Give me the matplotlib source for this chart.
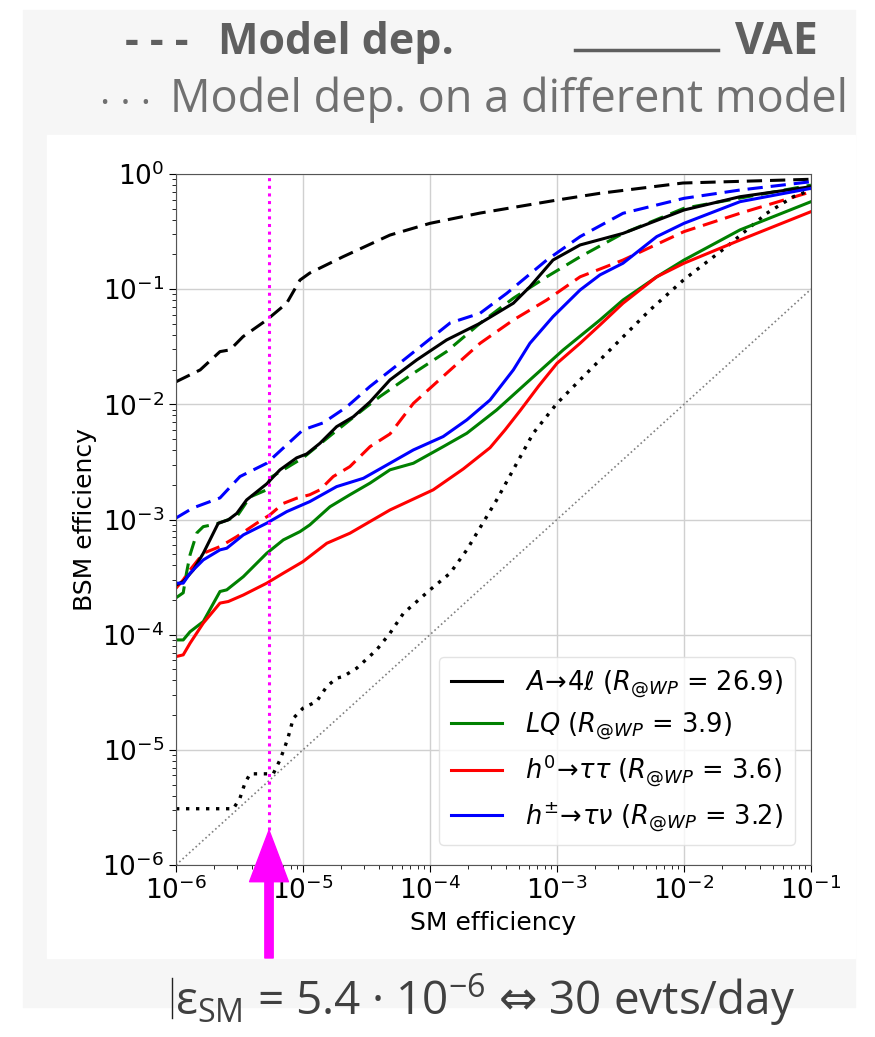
import numpy as np
import matplotlib
matplotlib.use("Agg")
from matplotlib import pyplot as plt
from matplotlib.lines import Line2D
from matplotlib.patches import Rectangle

# ---- data (SM efficiency, BSM efficiency) ----
# VAE (solid)
ato4l_x = [1.0e-6, 1.14e-6, 1.37e-6, 1.64e-6, 2.15e-6, 2.58e-6, 3.01e-6, 3.6e-6, 5.18e-6, 6.59e-6,
           8.91e-6, 1.07e-5, 1.36e-5, 1.84e-5, 2.49e-5, 3.37e-5, 4.84e-5, 7.86e-5, 1.35e-4, 2.48e-4,
           4.53e-4, 6.12e-4, 9.3e-4, 1.52e-3, 3.31e-3, 1.0e-2, 2.76e-2, 1.0e-1]
ato4l_y = [2.7e-4, 2.89e-4, 3.65e-4, 5.09e-4, 9.27e-4, 9.93e-4, 1.13e-3, 1.48e-3, 2.04e-3, 2.70e-3,
           3.43e-3, 3.71e-3, 4.59e-3, 6.4e-3, 7.8e-3, 1.05e-2, 1.63e-2, 2.43e-2, 3.62e-2, 5.06e-2,
           7.55e-2, 0.105, 0.179, 0.242, 0.305, 0.487, 0.635, 0.776]

lq_x = [1.0e-6, 1.14e-6, 1.29e-6, 1.64e-6, 2.22e-6, 2.51e-6, 3.39e-6, 5.18e-6, 7.0e-6, 9.47e-6,
        1.13e-5, 1.63e-5, 2.34e-5, 3.37e-5, 4.84e-5, 7.4e-5, 1.27e-4, 1.95e-4, 3.35e-4, 6.12e-4,
        1.12e-3, 2.18e-3, 3.31e-3, 6.1e-3, 1.0e-2, 2.76e-2, 1.0e-1]
lq_y = [9.0e-5, 9.0e-5, 1.06e-4, 1.30e-4, 2.37e-4, 2.45e-4, 3.19e-4, 5.09e-4, 6.65e-4, 7.85e-4,
        8.97e-4, 1.29e-3, 1.64e-3, 2.07e-3, 2.70e-3, 3.08e-3, 4.29e-3, 5.61e-3, 8.94e-3, 1.63e-2,
        2.97e-2, 5.4e-2, 8.05e-2, 0.128, 0.179, 0.327, 0.575]

h0_x = [1.0e-6, 1.14e-6, 1.29e-6, 1.64e-6, 2.22e-6, 2.58e-6, 3.39e-6, 5.18e-6, 7.0e-6, 1.0e-5,
        1.54e-5, 2.34e-5, 3.37e-5, 4.84e-5, 1.06e-4, 1.83e-4, 2.97e-4, 3.9e-4, 5.12e-4, 7.2e-4,
        1.0e-3, 1.52e-3, 2.18e-3, 3.31e-3, 6.1e-3, 1.0e-2, 2.76e-2, 1.0e-1]
h0_y = [6.45e-5, 6.68e-5, 8.43e-5, 1.26e-4, 1.88e-4, 1.94e-4, 2.21e-4, 2.80e-4, 3.42e-4, 4.31e-4,
        6.22e-4, 7.6e-4, 9.6e-4, 1.21e-3, 1.81e-3, 2.75e-3, 4.2e-3, 6.0e-3, 8.8e-3, 1.45e-2,
        2.27e-2, 3.39e-2, 4.89e-2, 7.55e-2, 0.128, 0.168, 0.267, 0.471]

hpm_x = [1.0e-6, 1.14e-6, 1.29e-6, 1.64e-6, 2.22e-6, 2.51e-6, 3.39e-6, 5.18e-6, 7.44e-6, 1.13e-5,
         1.84e-5, 2.99e-5, 4.84e-5, 7.4e-5, 1.27e-4, 1.95e-4, 2.97e-4, 4.53e-4, 6.12e-4, 9.3e-4,
         1.52e-3, 2.18e-3, 3.31e-3, 6.1e-3, 1.0e-2, 2.76e-2, 1.0e-1]
hpm_y = [2.80e-4, 2.80e-4, 3.42e-4, 4.46e-4, 5.45e-4, 5.63e-4, 7.35e-4, 9.29e-4, 1.17e-3, 1.43e-3,
         1.93e-3, 2.28e-3, 3.08e-3, 4.02e-3, 5.25e-3, 7.33e-3, 1.09e-2, 1.99e-2, 3.39e-2, 5.77e-2,
         9.84e-2, 0.133, 0.168, 0.286, 0.373, 0.575, 0.751]

# Model dependent (dashed)
md_ato4l_x = [1.0e-6, 1.55e-6, 2.22e-6, 2.66e-6, 3.37e-6, 5.18e-6, 7.44e-6, 9.47e-6, 1.13e-5, 2.06e-5,
              4.84e-5, 1.0e-4, 2.48e-4, 1.0e-3, 2.18e-3, 9.8e-3, 1.0e-1]
md_ato4l_y = [0.0157, 0.0199, 0.0287, 0.0297, 0.0387, 0.054, 0.0755, 0.120, 0.138, 0.191,
              0.295, 0.373, 0.458, 0.594, 0.680, 0.835, 0.90]

md_lq_x = [1.0e-6, 1.14e-6, 1.21e-6, 1.29e-6, 1.46e-6, 1.64e-6, 2.09e-6, 3.01e-6, 3.83e-6, 5.18e-6,
           5.5e-6, 1.0e-5, 1.73e-5, 3.18e-5, 4.04e-5, 7.4e-5, 1.35e-4, 2.48e-4, 4.53e-4, 8.3e-4,
           1.52e-3, 3.31e-3, 1.0e-2, 1.0e-1]
md_lq_y = [2.09e-4, 2.31e-4, 3.44e-4, 4.93e-4, 7.65e-4, 8.67e-4, 9.16e-4, 1.06e-3, 1.57e-3, 1.81e-3,
           2.30e-3, 3.43e-3, 5.61e-3, 9.55e-3, 1.17e-2, 1.86e-2, 2.87e-2, 5.06e-2, 8.34e-2, 0.128,
           0.191, 0.305, 0.504, 0.80]

md_h0_x = [1.0e-6, 1.14e-6, 1.29e-6, 1.64e-6, 2.22e-6, 3.01e-6, 4.32e-6, 5.5e-6, 7.0e-6, 8.91e-6,
           1.13e-5, 1.36e-5, 1.73e-5, 2.34e-5, 3.37e-5, 4.84e-5, 7.4e-5, 1.35e-4, 2.48e-4, 4.53e-4,
           8.3e-4, 1.52e-3, 3.31e-3, 1.0e-2, 2.76e-2, 1.0e-1]
md_h0_y = [2.53e-4, 2.99e-4, 3.65e-4, 5.09e-4, 5.82e-4, 7.1e-4, 9.29e-4, 1.10e-3, 1.38e-3, 1.53e-3,
           1.64e-3, 1.81e-3, 2.36e-3, 2.88e-3, 4.29e-3, 5.53e-3, 1.02e-2, 1.86e-2, 3.39e-2, 5.4e-2,
           8.05e-2, 0.128, 0.179, 0.316, 0.456, 0.70]

md_hpm_x = [1.0e-6, 1.36e-6, 2.22e-6, 3.19e-6, 5.18e-6, 1.0e-5, 1.44e-5, 2.21e-5, 3.37e-5, 5.81e-5,
            1.44e-4, 2.48e-4, 4.02e-4, 8.3e-4, 1.52e-3, 3.31e-3, 1.0e-2, 2.76e-2, 1.0e-1]
md_hpm_y = [1.03e-3, 1.26e-3, 1.54e-3, 2.36e-3, 3.08e-3, 6.0e-3, 6.9e-3, 9.5e-3, 1.43e-2, 2.29e-2,
            5.09e-2, 6.18e-2, 9.2e-2, 0.179, 0.286, 0.456, 0.615, 0.726, 0.857]

# Model dependent, trained on a different model (dotted)
other_x = [1.0e-6, 2.83e-6, 3.19e-6, 3.49e-6, 3.83e-6, 5.83e-6, 6.59e-6, 7.22e-6, 7.66e-6, 8.39e-6,
           1.0e-5, 1.28e-5, 1.54e-5, 1.84e-5, 2.07e-5, 2.65e-5, 3.80e-5, 4.84e-5, 6.17e-5, 1.0e-4,
           1.44e-4, 1.95e-4, 3.35e-4, 6.5e-4, 1.0e-3, 1.61e-3, 2.95e-3, 5.4e-3, 9.9e-3, 2.17e-2,
           4.48e-2, 7.26e-2, 1.0e-1]
other_y = [3.08e-6, 3.08e-6, 3.81e-6, 5.14e-6, 6.19e-6, 6.19e-6, 8.18e-6, 1.07e-5, 1.30e-5, 1.88e-5,
           2.30e-5, 2.63e-5, 3.55e-5, 4.19e-5, 4.33e-5, 5.12e-5, 7.38e-5, 1.03e-4, 1.53e-4, 2.45e-4,
           3.42e-4, 5.45e-4, 1.48e-3, 5.61e-3, 1.02e-2, 1.74e-2, 3.39e-2, 6.6e-2, 0.120, 0.234,
           0.456, 0.635, 0.726]

labels = [r'$A\!\rightarrow\!4\ell$ ($R_{@WP}$ = 26.9)',
          r'$LQ$ ($R_{@WP}$ = 3.9)',
          r'$h^0\!\rightarrow\!\tau\tau$ ($R_{@WP}$ = 3.6)',
          r'$h^{\pm}\!\rightarrow\!\tau\nu$ ($R_{@WP}$ = 3.2)']
colors = ['black', 'green', 'red', 'blue']

eps_sm = 5.4e-6
arrow_tip = 2e-6
xlim = (1e-6, 1e-1)
ylim = (1e-6, 1e0)

fig = plt.figure(figsize=(8.75, 10.37), dpi=100)
W, H = 875, 1037
slide_font = ['Open Sans', 'DejaVu Sans']

# slide background
fig.add_artist(Rectangle((23 / W, 1 - 1007 / H), (855 - 23) / W, (1007 - 10) / H,
                         transform=fig.transFigure, color='#f6f6f6', zorder=-10))
fig.add_artist(Rectangle((47 / W, 1 - 958 / H), (855 - 47) / W, (958 - 135) / H,
                         transform=fig.transFigure, color='white', zorder=-9))

ax = fig.add_axes([176 / W, 1 - 865 / H, (811 - 176) / W, (865 - 174) / H])
ax.set_xscale('log')
ax.set_yscale('log')
ax.set_xlim(*xlim)
ax.set_ylim(*ylim)
ax.grid(True, which='major', color='#d0d0d0', linewidth=1)
ax.set_axisbelow(True)

ax.plot(xlim, xlim, linestyle=':', color='grey', linewidth=1.2)

vae = [(ato4l_x, ato4l_y), (lq_x, lq_y), (h0_x, h0_y), (hpm_x, hpm_y)]
md = [(md_ato4l_x, md_ato4l_y), (md_lq_x, md_lq_y), (md_h0_x, md_h0_y), (md_hpm_x, md_hpm_y)]
for (x, y), c in zip(md, colors):
    ax.plot(x, y, linestyle=(0, (5, 2.6)), color=c, linewidth=2.2)
ax.plot(other_x, other_y, linestyle=(0, (1, 2)), color='black', linewidth=2.4)
for (x, y), c, lab in zip(vae, colors, labels):
    ax.plot(x, y, color=c, linewidth=2.2, label=lab)

ymin_frac = (np.log10(arrow_tip) - np.log10(ylim[0])) / (np.log10(ylim[1]) - np.log10(ylim[0]))
ax.axvline(eps_sm, ymin=ymin_frac, ymax=1, color='magenta', linestyle=(0, (1, 1.5)), linewidth=2.2)

ax.tick_params(axis='both', which='major', labelsize=19, length=5)
ax.tick_params(axis='both', which='minor', length=3)
ax.set_xlabel('SM efficiency', fontsize=18)
ax.set_ylabel('BSM efficiency', fontsize=18)
for s in ax.spines.values():
    s.set_color('#555555')

ax.legend(loc='lower right', fontsize=18.5, framealpha=0.8, edgecolor='#dddddd',
          handlelength=2.0, handletextpad=0.9, labelspacing=0.42, borderpad=0.45,
          bbox_to_anchor=(0.995, 0.01))

ax.annotate('', xy=(eps_sm, arrow_tip), xycoords='data',
            xytext=(eps_sm, 1 - 958 / H), textcoords=('data', 'figure fraction'),
            arrowprops=dict(facecolor='magenta', edgecolor='magenta', width=6,
                            headwidth=28, headlength=37, shrink=0),
            annotation_clip=False)

# header / footer text of the slide
grey_b = '#5f5f5f'
grey = '#707070'
fig.text(125 / W, 1 - 43 / H, '- - -', fontsize=31, fontweight='bold',
         color=grey_b, family=slide_font, va='center')
fig.text(218 / W, 1 - 43 / H, 'Model dep.', fontsize=31, fontweight='bold',
         color=grey_b, family=slide_font, va='center')
fig.add_artist(Line2D([575 / W, 718 / W], [1 - 50 / H, 1 - 50 / H], transform=fig.transFigure,
                      color=grey_b, linewidth=2.5))
fig.text(735 / W, 1 - 43 / H, 'VAE', fontsize=32, fontweight='bold',
         color=grey_b, family=slide_font, va='center')
fig.text(100 / W, 1 - 105 / H, '\u00b7 \u00b7 \u00b7', fontsize=28,
         color=grey, family=slide_font, va='center')
fig.text(170 / W, 1 - 100 / H, 'Model dep. on a different model', fontsize=32.5,
         color=grey, family=slide_font, va='center')

fig.text(175 / W, 1 - 1000 / H,
         '$\\mathregular{\u03b5_{SM}}$ = 5.4 \u00b7 10$^{\\mathregular{-6}}$ $\u21d4$ 30 evts/day',
         fontsize=33, color='#404040', family=slide_font, va='center')
fig.add_artist(Line2D([172 / W, 172 / W], [1 - 978 / H, 1 - 1018 / H], transform=fig.transFigure,
                      color='#222222', linewidth=1))

fig.savefig('out.png', dpi=100)
